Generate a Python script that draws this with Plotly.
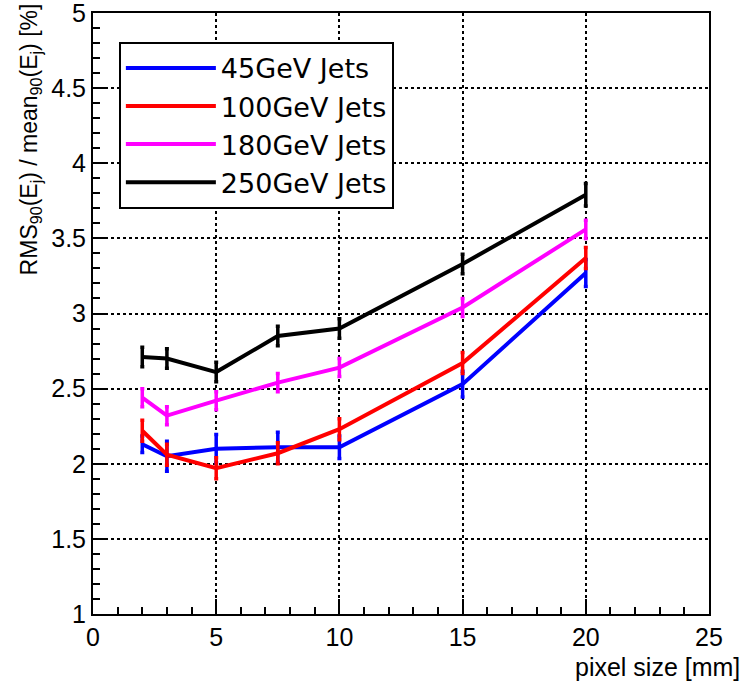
import plotly.graph_objects as go

pixel_size = [2, 3, 5, 7.5, 10, 15, 20]

series_names = ["45GeV Jets", "100GeV Jets", "180GeV Jets", "250GeV Jets"]
series_colors = ["#0000ff", "#ff0000", "#ff00ff", "#000000"]

res_45 = [2.13, 2.05, 2.10, 2.11, 2.11, 2.53, 3.27]
err_45 = [0.055, 0.10, 0.095, 0.10, 0.075, 0.085, 0.09]
res_100 = [2.22, 2.06, 1.97, 2.07, 2.23, 2.67, 3.37]
err_100 = [0.07, 0.07, 0.07, 0.07, 0.07, 0.07, 0.07]
res_180 = [2.44, 2.32, 2.42, 2.54, 2.64, 3.04, 3.56]
err_180 = [0.06, 0.06, 0.06, 0.06, 0.06, 0.06, 0.06]
res_250 = [2.71, 2.70, 2.61, 2.85, 2.90, 3.33, 3.79]
err_250 = [0.065, 0.065, 0.065, 0.065, 0.065, 0.065, 0.075]

values = [res_45, res_100, res_180, res_250]
errors = [err_45, err_100, err_180, err_250]

fig = go.Figure()
for name, color, y, e in zip(series_names, series_colors, values, errors):
    fig.add_trace(go.Scatter(
        x=pixel_size, y=y, name=name, mode="lines",
        line=dict(color=color, width=4),
        error_y=dict(type="data", array=e, visible=True, color=color,
                     thickness=3.5, width=2),
    ))

axis_common = dict(
    showline=True, linecolor="black", linewidth=2, mirror=True,
    ticks="inside", ticklen=15, tickwidth=1.5, tickcolor="black",
    showgrid=True, gridcolor="black", gridwidth=1.5, griddash="dot",
    zeroline=False, ticklabeloverflow="allow", automargin=False,
    tickfont=dict(family="Liberation Sans, Arial, sans-serif", size=25, color="black"),
)

fig.update_xaxes(range=[0, 25], dtick=5, tick0=0,
                 minor=dict(dtick=1, ticklen=7, ticks="inside", tickcolor="black", showgrid=False),
                 **axis_common)
fig.update_yaxes(range=[1, 5], dtick=0.5, tick0=1,
                 minor=dict(dtick=0.1, ticklen=7, ticks="inside", tickcolor="black", showgrid=False),
                 **axis_common)

fig.add_annotation(
    text="RMS<sub>90</sub>(E<sub>j</sub>) / mean<sub>90</sub>(E<sub>j</sub>) [%]",
    xref="paper", yref="paper", x=-0.1, y=1.02, xanchor="center", yanchor="top",
    textangle=-90, showarrow=False,
    font=dict(family="Liberation Sans, Arial, sans-serif", size=23, color="black"),
)
fig.add_annotation(
    text="pixel size [mm]",
    xref="paper", yref="paper", x=1.053, y=-0.088, xanchor="right", yanchor="middle",
    showarrow=False,
    font=dict(family="Liberation Sans, Arial, sans-serif", size=25, color="black"),
)

fig.update_layout(
    width=747, height=681,
    margin=dict(l=93, r=38, t=13, b=67, autoexpand=False),
    paper_bgcolor="white", plot_bgcolor="white",
    showlegend=True,
    legend=dict(
        x=0.042, y=0.952, xanchor="left", yanchor="top",
        bgcolor="white", bordercolor="black", borderwidth=2,
        font=dict(family="DejaVu Sans, sans-serif", size=27, color="black"),
        itemwidth=90, tracegroupgap=0,
    ),
)

fig.write_html("out.html")
